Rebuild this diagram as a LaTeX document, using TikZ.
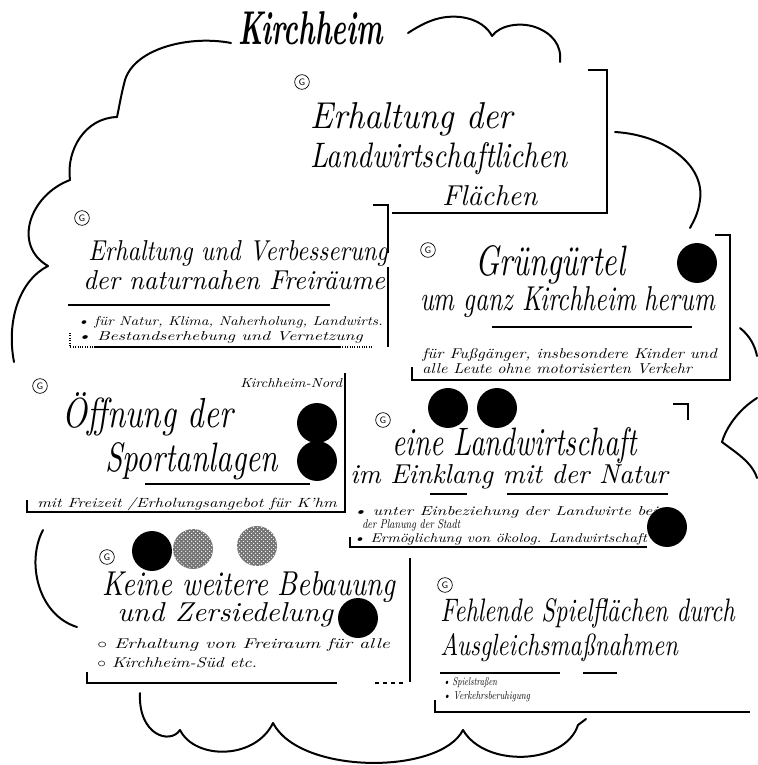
\documentclass[tikz,border=0pt]{standalone}
\usepackage{fontspec}
\usepackage{graphicx}
\usepackage{tikz}
\usetikzlibrary{patterns}
\newlength\px
\setlength\px{0.75pt}
\def\hand#1#2#3{\resizebox{#1\px}{#2\px}{\itshape #3}}
\tikzset{
	hw/.style={anchor=base west, inner sep=0pt},
	gmark/.style={circle, draw, line width=0.5pt, inner sep=0pt, minimum size=11pt, font=\sffamily\fontsize{7}{7}\selectfont},
	cloud/.style={line width=1.5pt, line cap=round},
	card/.style={line width=0.8pt},
	uline/.style={line width=0.9pt},
	blackdot/.style={fill=black},
	greydot/.style={preaction={fill=black!55}, pattern=crosshatch dots, pattern color=white}
}

\begin{document}
\begin{tikzpicture}[x=0.0264cm, y=-0.0264cm]
		%%%%% START %%%%%
		\useasboundingbox (0,0) rectangle (757,765);
		
		% title and cloud
		\node[hw] (title) at (238,45) {\resizebox{145\px}{33\px}{\bfseries\itshape Kirchheim}};
		\draw[cloud] (231,43) .. controls (190,35) and (135,48) .. (125,80) .. controls (121,95) and (119,108) .. (117,117);
		\draw[cloud] (117,117) .. controls (85,118) and (66,150) .. (70,180);
		\draw[cloud] (70,180) .. controls (30,195) and (12,245) .. (48,266);
		\draw[cloud] (48,266) .. controls (20,280) and (6,320) .. (14,362);
		\draw[cloud] (408,33) .. controls (425,22) and (440,15) .. (460,17) .. controls (478,19) and (488,28) .. (492,36);
		\draw[cloud] (492,36) .. controls (500,25) and (520,22) .. (535,27) .. controls (552,33) and (562,45) .. (560,62);
		\draw[cloud] (615,132) .. controls (665,135) and (705,165) .. (700,200) .. controls (698,215) and (693,222) .. (690,228);
		\draw[cloud] (740,328) .. controls (750,336) and (755,346) .. (757,356);
		\draw[cloud] (757,398) .. controls (738,410) and (726,428) .. (722,442) .. controls (735,452) and (752,462) .. (757,478);
		\draw[cloud] (43,530) .. controls (26,562) and (38,615) .. (77,627);
		\draw[cloud] (140,693) .. controls (138,735) and (170,745) .. (180,730);
		\draw[cloud] (180,730) .. controls (195,760) and (255,760) .. (273,723);
		\draw[cloud] (273,723) .. controls (300,775) and (440,775) .. (463,730);
		\draw[cloud] (463,730) .. controls (485,768) and (565,765) .. (578,725) -- (586,719);
		
		% Erhaltung der landwirtschaftlichen Flaechen
		\node[gmark] (g1) at (302,82) {G};
		\node[hw] (c1a) at (310,128) {\hand{203}{26}{Erhaltung der}};
		\node[hw] (c1b) at (310,167) {\hand{258}{25}{Landwirtschaftlichen}};
		\node[hw] (c1c) at (442,205) {\hand{95}{20}{Flächen}};
		\draw[card] (588,70) -- (607,70) -- (607,213) -- (392,213);
		
		% Erhaltung und Verbesserung
		\node[gmark] (g2) at (82,218) {G};
		\node[hw] (c2a) at (88,260) {\hand{300}{20}{Erhaltung und Verbesserung}};
		\node[hw] (c2b) at (83,289) {\hand{302}{19}{der naturnahen Freiräume}};
		\node[hw] (c2c) at (77,325) {\hand{306}{9}{\textbullet\ für Natur, Klima, Naherholung, Landwirts.}};
		\node[hw] (c2d) at (77,340) {\hand{286}{9}{\textbullet\ Bestandserhebung und Vernetzung}};
		\draw[uline] (68,305) -- (330,305);
		\draw[card] (373,205) -- (388,205) -- (388,253);
		\draw[card] (388,267) -- (388,347);
		\draw[card, densely dotted] (70,333) -- (70,347) -- (95,347);
		\draw[card] (95,347) -- (340,347);
		\draw[card, densely dotted] (340,347) -- (372,347);
		
		% Gruenguertel
		\node[gmark] (g3) at (428,250) {G};
		\node[hw] (c3a) at (475,275) {\hand{150}{30}{Grüngürtel}};
		\node[hw] (c3b) at (420,310) {\hand{295}{24}{um ganz Kirchheim herum}};
		\node[hw] (c3c) at (422,358) {\hand{295}{10}{für Fußgänger, insbesondere Kinder und}};
		\node[hw] (c3d) at (422,373) {\hand{270}{10}{alle Leute ohne motorisierten Verkehr}};
		\fill[blackdot] (697,263) circle (15pt);
		\draw[uline] (492,327) -- (692,327);
		\draw[card] (715,235) -- (730,235) -- (730,380) -- (412,380) -- (412,367);
		
		% Sportanlagen
		\node[gmark] (g4) at (40,386) {G};
		\node[hw] (c4n) at (240,387) {\hand{102}{9}{Kirchheim-Nord}};
		\node[hw] (c4a) at (62,427) {\hand{171}{35}{Öffnung der}};
		\node[hw] (c4b) at (105,471) {\hand{173}{29}{Sportanlagen}};
		\node[hw] (c4c) at (37,507) {\hand{300}{10}{mit Freizeit /Erholungsangebot für K'hm}};
		\fill[blackdot] (317,423) circle (15pt);
		\fill[blackdot] (317,461) circle (15pt);
		\draw[uline] (145,484) -- (310,484);
		\draw[card] (345,373) -- (345,512) -- (27,512) -- (27,500);
		
		% Landwirtschaft
		\node[gmark] (g5) at (383,420) {G};
		\fill[blackdot] (448,408) circle (15pt);
		\fill[blackdot] (497,408) circle (15pt);
		\node[hw] (c5a) at (392,455) {\hand{245}{28}{eine Landwirtschaft}};
		\node[hw] (c5b) at (350,483) {\hand{318}{19}{im Einklang mit der Natur}};
		\node[hw] (c5c) at (353,515) {\hand{305}{9}{\textbullet\ unter Einbeziehung der Landwirte bei}};
		\node[hw] (c5d) at (362,528) {\hand{98}{9}{der Planung der Stadt}};
		\node[hw] (c5e) at (353,542) {\hand{294}{9}{\textbullet\ Ermöglichung von ökolog. Landwirtschaft}};
		\fill[blackdot] (667,527) circle (15pt);
		\draw[uline] (430,494) -- (467,494);
		\draw[uline] (507,494) -- (668,494);
		\draw[card] (673,404) -- (688,404) -- (688,420);
		\draw[card] (350,537) -- (350,547) -- (647,547);
		
		% Bebauung
		\node[gmark] (g6) at (107,557) {G};
		\fill[blackdot] (152,551) circle (15pt);
		\fill[greydot] (193,549) circle (15pt);
		\fill[greydot] (257,546) circle (15pt);
		\node[hw] (c6a) at (102,595) {\hand{293}{24}{Keine weitere Bebauung}};
		\node[hw] (c6b) at (117,621) {\hand{216}{19}{und Zersiedelung}};
		\node[hw] (c6c) at (97,648) {\hand{293}{10}{$\circ$ Erhaltung von Freiraum für alle}};
		\node[hw] (c6d) at (97,667) {\hand{160}{10}{$\circ$ Kirchheim-Süd etc.}};
		\fill[blackdot] (358,618) circle (15pt);
		\draw[card] (410,558) -- (410,682);
		\draw[card] (87,672) -- (87,683) -- (337,683);
		\draw[card, dashed] (375,683) -- (405,683);
		
		% Spielflaechen
		\node[gmark] (g7) at (445,585) {G};
		\node[hw] (c7a) at (440,621) {\hand{295}{23}{Fehlende Spielflächen durch}};
		\node[hw] (c7b) at (440,655) {\hand{238}{22}{Ausgleichsmaßnahmen}};
		\node[hw] (c7c) at (443,685) {\hand{54}{8}{\textbullet\ Spielstraßen}};
		\node[hw] (c7d) at (443,699) {\hand{87}{8}{\textbullet\ Verkehrsberuhigung}};
		\draw[uline] (440,673) -- (560,673);
		\draw[uline] (583,673) -- (617,673);
		\draw[card] (435,700) -- (435,712) -- (750,712);
		
		%%%%% END %%%%%
\end{tikzpicture}
\end{document}
